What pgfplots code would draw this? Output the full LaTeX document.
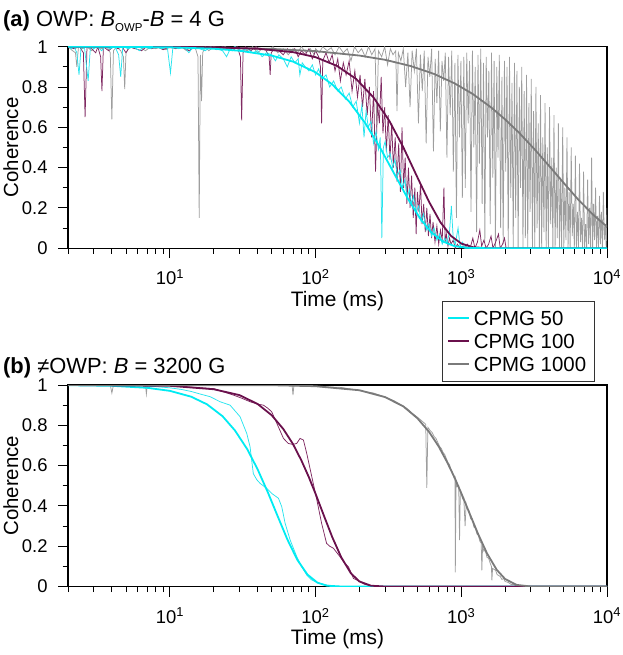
\documentclass[border=0pt]{standalone}
\usepackage{fontspec}
\setmainfont{Liberation Sans}
\usepackage{pgfplots}
\pgfplotsset{compat=1.18}

\definecolor{cy}{RGB}{0,235,242}
\definecolor{cyd}{RGB}{40,228,238}
\definecolor{mr}{RGB}{106,16,76}
\definecolor{mrd}{RGB}{128,42,98}
\definecolor{gy}{RGB}{122,122,122}
\definecolor{gyd}{RGB}{158,158,158}

\pgfplotsset{
  owppanel/.style={
    scale only axis, width=539bp, height=201.5bp,
    xmin=2, xmax=10000, ymin=0, ymax=1,
    xtick={10,100,1000,10000},
    xticklabels={10\textsuperscript{1},10\textsuperscript{2},10\textsuperscript{3},10\textsuperscript{4}},
    minor xtick={2,3,4,5,6,7,8,9,20,30,40,50,60,70,80,90,200,300,400,500,600,700,800,900,2000,3000,4000,5000,6000,7000,8000,9000},
    ytick={0,0.2,0.4,0.6,0.8,1},
    yticklabels={0,0.2,0.4,0.6,0.8,1},
    minor ytick={0.1,0.3,0.5,0.7,0.9},
    tick align=outside, xtick pos=left, ytick pos=left,
    major tick length=10bp, minor tick length=5.5bp,
    every tick/.style={black, line width=0.9bp},
    axis line style={line width=1.1bp},
    tick label style={font=\fontsize{18.5}{18.5}\selectfont},
    xticklabel style={yshift=-8bp},
    yticklabel style={xshift=-7bp},
    xlabel={Time (ms)}, ylabel={Coherence},
    every axis x label/.style={at={(axis description cs:0.5,-0.262)}, anchor=center, inner sep=0bp, font=\fontsize{21}{21}\selectfont},
    every axis y label/.style={at={(axis description cs:-0.106,0.5)}, rotate=90, anchor=center, inner sep=0bp, font=\fontsize{20.5}{20.5}\selectfont},
  },
  datline/.style={line width=0.75bp},
  fitline/.style={line width=1.8bp},
}

\begin{document}
\begin{tikzpicture}

% (a) OWP
\begin{semilogxaxis}[owppanel, at={(68bp,-46.7bp)}, anchor=north west]
\addplot[datline, gyd, forget plot] coordinates {(2,1)(2.15,0.98)(2.25,0.97)(2.3,0.90)(2.36,1)(2.5,0.99)(2.7,1)(2.9,0.98)(3.1,1)(3.4,0.99)(3.7,1)(3.9,0.97)(4.0,0.64)(4.1,0.98)(4.3,1)(4.6,0.98)(4.8,0.95)(4.9,0.79)(5.0,0.97)(5.3,1)(5.7,0.99)(6.2,1)(6.8,0.98)(7.4,1)(8,0.99)(8.7,1)(9.4,0.985)(10,1)(11,0.99)(12,1)(13,0.98)(14,1)(15,0.99)(15.6,0.95)(15.9,0.15)(16.2,0.96)(16.5,0.73)(16.8,0.97)(17.5,1)(18.5,0.98)(20,1)(22,0.99)(24,1)(26,0.985)(28,1)(31,0.99)(34,0.98)(37,1)(40,0.97)(43,0.99)(47,0.98)(51,1)(55,0.97)(60,0.99)(65,0.96)(70,0.99)(75,0.97)(80,1)(86,0.97)(92,0.99)(98,0.96)(100,0.99)(106,0.97)(112,1)(120,0.98)(128,0.995)(136,0.96)(145,1)(155,0.97)(165,0.99)(175,0.93)(185,1)(196,0.97)(207,0.99)(219,0.95)(231,1)(243,0.96)(256,0.99)(263,0.60)(270,0.98)(284,0.95)(298,1)(312,0.91)(326,0.99)(340,0.96)(355,0.98)(362,0.68)(370,0.97)(385,0.93)(400,0.99)(415,0.80)(430,0.97)(445,0.70)(460,0.98)(476,0.88)(492,0.99)(508,0.62)(524,0.96)(540,0.78)(557,0.98)(574,0.52)(591,0.95)(608,0.85)(626,0.99)(644,0.48)(662,0.94)(680,0.72)(699,0.98)(718,0.58)(737,0.93)(757,0.83)(777,0.97)(797,0.45)(818,0.95)(839,0.66)(860,0.98)(882,0.38)(904,0.92)(926,0.15)(948,0.96)(971,0.55)(994,0.93)(1017,0.25)(1041,0.95)(1065,0.30)(1090,0.97)(1115,0.62)(1140,0.93)(1166,0.18)(1192,0.98)(1219,0.50)(1246,0.90)(1274,0.08)(1302,0.96)(1331,0.42)(1360,0.99)(1390,0.22)(1420,0.92)(1451,0.03)(1482,0.95)(1514,0.55)(1546,0.88)(1579,0.12)(1612,0.97)(1646,0.35)(1680,0.93)(1715,0.0)(1751,0.90)(1787,0.45)(1824,0.96)(1862,0.10)(1900,0.85)(1939,0.02)(1978,0.93)(2018,0.38)(2059,0.90)(2100,0.0)(2142,0.95)(2185,0.25)(2228,0.82)(2272,0.0)(2317,0.92)(2362,0.15)(2408,0.88)(2455,0.0)(2503,0.80)(2551,0.30)(2600,0.90)(2650,0.0)(2700,0.78)(2752,0.05)(2804,0.86)(2857,0.0)(2911,0.72)(2966,0.18)(3021,0.84)(3078,0.0)(3135,0.68)(3193,0.0)(3252,0.80)(3312,0.10)(3373,0.62)(3435,0.0)(3497,0.76)(3561,0.0)(3625,0.55)(3691,0.08)(3757,0.72)(3825,0.0)(3893,0.50)(3963,0.0)(4033,0.70)(4105,0.12)(4178,0.45)(4251,0.0)(4326,0.66)(4402,0.0)(4479,0.40)(4557,0.05)(4637,0.62)(4717,0.0)(4799,0.35)(4882,0.0)(4966,0.60)(5051,0.0)(5137,0.30)(5225,0.04)(5313,0.55)(5403,0.0)(5494,0.28)(5586,0.0)(5680,0.50)(5775,0.06)(5871,0.22)(5968,0.0)(6067,0.46)(6167,0.0)(6268,0.18)(6371,0.0)(6475,0.42)(6581,0.03)(6688,0.15)(6797,0.0)(6907,0.38)(7018,0.0)(7131,0.12)(7246,0.0)(7362,0.34)(7480,0.02)(7599,0.20)(7720,0.0)(7842,0.45)(7966,0.0)(8092,0.22)(8219,0.04)(8348,0.30)(8478,0.0)(8610,0.16)(8744,0.0)(8880,0.26)(9017,0.02)(9156,0.18)(9297,0.0)(9439,0.28)(9584,0.04)(9730,0.12)(9878,0.0)(10000,0.20)};
\addplot[datline, mrd, forget plot] coordinates {(2,1)(2.2,0.99)(2.4,1)(2.55,0.97)(2.62,0.65)(2.7,1)(2.9,0.99)(3.1,0.97)(3.2,1)(3.35,0.95)(3.42,0.78)(3.5,1)(3.8,0.98)(4.1,1)(4.4,0.99)(4.7,1)(5.0,0.97)(5.3,1)(5.8,0.99)(6.4,0.98)(6.9,1)(7.5,0.99)(8.2,1)(9,0.985)(10,1)(11,0.99)(12,1)(13.5,0.98)(15,1)(17,0.99)(19,1)(21,0.985)(23,1)(25,0.99)(27,0.98)(29,1)(30.5,0.95)(31.1,0.635)(31.8,0.97)(33,1)(36,0.98)(39,1)(42,0.985)(45,0.99)(48,0.95)(48.8,0.86)(49.6,0.97)(52,0.99)(56,0.98)(60,0.96)(64,0.99)(68,0.97)(72,0.99)(76,0.95)(80,0.98)(85,0.96)(90,0.99)(95,0.94)(100,0.98)(105,0.95)(108,0.9)(110,0.62)(112,0.93)(118,0.97)(124,0.92)(130,0.96)(136,0.88)(142,0.94)(148,0.83)(155,0.92)(162,0.86)(170,0.93)(178,0.78)(186,0.88)(194,0.75)(202,0.86)(210,0.70)(218,0.84)(226,0.66)(234,0.80)(242,0.55)(250,0.78)(258,0.38)(266,0.72)(274,0.62)(282,0.85)(290,0.57)(298,0.70)(306,0.48)(315,0.66)(324,0.44)(333,0.62)(342,0.40)(352,0.55)(362,0.33)(372,0.52)(382,0.28)(392,0.60)(402,0.30)(412,0.45)(423,0.22)(434,0.40)(445,0.20)(456,0.36)(468,0.15)(480,0.30)(490,0.07)(500,0.28)(512,0.18)(525,0.32)(538,0.12)(552,0.22)(566,0.08)(580,0.20)(595,0.06)(610,0.17)(625,0.05)(640,0.13)(660,0.03)(680,0.11)(700,0.02)(720,0.09)(740,0.04)(760,0.30)(775,0.03)(790,0.07)(810,0.01)(830,0.05)(850,0.02)(880,0.04)(910,0.0)(940,0.02)(980,0.0)(1020,0.01)(1060,0.0)(1100,0.02)(1150,0.0)(1200,0.05)(1240,0.0)(1290,0.03)(1340,0.09)(1380,0.01)(1430,0.04)(1480,0.0)(1540,0.02)(1600,0.06)(1650,0.0)(1720,0.03)(1800,0.07)(1850,0.0)(1920,0.02)(1980,0.05)(2030,0.0)(10000,0)};
\addplot[datline, cyd, forget plot] coordinates {(2,1)(2.1,0.99)(2.2,1)(2.3,0.97)(2.38,0.86)(2.46,1)(2.6,0.99)(2.75,0.83)(2.85,1)(3.0,0.99)(3.2,1)(3.4,0.98)(3.6,1)(3.9,0.99)(4.2,1)(4.45,0.96)(4.6,0.85)(4.75,1)(5.2,0.99)(5.6,1)(6.2,0.98)(6.6,1)(7.3,0.99)(8,1)(8.8,0.99)(9.6,1)(10.1,0.87)(10.5,1)(11.5,0.99)(12.5,1)(13.5,0.97)(14.5,1)(16,0.99)(17.5,0.98)(19,1)(21,0.99)(23,0.98)(24.5,0.95)(26,0.99)(28,1)(31,0.98)(34,0.99)(37,0.97)(40,0.98)(43,0.95)(46,0.97)(50,0.96)(53,0.93)(56,0.96)(60,0.94)(64,0.9)(68,0.95)(72,0.92)(76,0.94)(78,0.86)(81,0.92)(85,0.9)(90,0.88)(95,0.91)(100,0.86)(105,0.89)(110,0.84)(118,0.86)(125,0.80)(133,0.83)(142,0.78)(150,0.80)(160,0.74)(170,0.77)(180,0.70)(190,0.73)(200,0.62)(208,0.71)(215,0.55)(222,0.68)(230,0.60)(240,0.63)(250,0.52)(260,0.58)(270,0.49)(278,0.55)(285,0.05)(292,0.50)(300,0.53)(312,0.45)(325,0.47)(338,0.40)(350,0.44)(365,0.36)(380,0.39)(395,0.30)(410,0.34)(425,0.25)(440,0.29)(455,0.22)(470,0.26)(490,0.18)(510,0.21)(530,0.13)(550,0.17)(575,0.09)(600,0.12)(625,0.06)(650,0.10)(680,0.04)(710,0.07)(740,0.02)(770,0.05)(800,0.03)(830,0.08)(855,0.21)(880,0.05)(910,0.02)(950,0.10)(980,0.01)(1020,0.03)(1060,0)(10000,0)};
\addplot[fitline, gy] coordinates {(2,1)(20,0.996)(50,0.989)(100,0.978)(200,0.956)(300,0.935)(450,0.904)(650,0.865)(900,0.818)(1200,0.765)(1600,0.699)(2000,0.639)(2500,0.572)(3200,0.489)(4000,0.409)(5000,0.327)(6300,0.244)(8000,0.167)(10000,0.107)};
\addplot[fitline, mr] coordinates {(2,1)(10,0.999)(20,0.997)(40,0.990)(70,0.973)(100,0.948)(140,0.905)(190,0.840)(250,0.748)(320,0.633)(400,0.501)(490,0.365)(600,0.231)(720,0.128)(850,0.061)(1000,0.023)(1200,0.005)(1500,0)(10000,0)};
\addplot[fitline, cy] coordinates {(2,1)(5,0.999)(10,0.997)(20,0.990)(30,0.980)(50,0.956)(70,0.926)(100,0.873)(130,0.813)(170,0.728)(220,0.619)(280,0.493)(350,0.364)(430,0.246)(520,0.149)(620,0.080)(750,0.033)(900,0.010)(1100,0.002)(1500,0)(10000,0)};
\end{semilogxaxis}

% (b) not OWP
\begin{semilogxaxis}[owppanel, at={(68bp,-385bp)}, anchor=north west,
  legend style={at={(axis description cs:0.694,1.417)}, anchor=north west,
    draw=black!80, line width=0.8bp, font=\fontsize{20.5}{20.5}\selectfont,
    inner xsep=5bp, inner ysep=9.75bp, row sep=8.5bp,
    nodes={inner sep=3.5bp, inner ysep=0bp, text height=14.5bp, text depth=0bp},
    cells={anchor=west}},
  legend image code/.code={\draw[#1, line width=1.8bp] (0bp,0bp) -- (21bp,0bp);},
]
\addplot[datline, gyd, forget plot] coordinates {(2,1)(3.9,1)(4.0,0.96)(4.1,1)(6.8,1)(6.9,0.955)(7.0,1)(69,0.998)(70,0.95)(71,0.997)(150,0.988)(250,0.96)(300,0.94)(350,0.92)(400,0.895)(430,0.88)(460,0.86)(490,0.845)(520,0.83)(550,0.815)(570,0.805)(580,0.49)(590,0.79)(610,0.775)(630,0.765)(650,0.745)(670,0.735)(690,0.715)(710,0.695)(730,0.685)(750,0.665)(770,0.655)(790,0.635)(810,0.615)(830,0.605)(850,0.58)(870,0.565)(890,0.54)(905,0.545)(910,0.07)(920,0.52)(935,0.495)(960,0.50)(973,0.23)(985,0.47)(1000,0.465)(1020,0.435)(1040,0.44)(1062,0.30)(1080,0.41)(1100,0.385)(1130,0.375)(1160,0.335)(1190,0.335)(1220,0.295)(1250,0.29)(1280,0.26)(1310,0.255)(1340,0.225)(1370,0.215)(1384,0.08)(1400,0.20)(1430,0.175)(1460,0.18)(1500,0.145)(1540,0.14)(1580,0.115)(1610,0.10)(1622,0.03)(1640,0.09)(1680,0.085)(1720,0.08)(1760,0.06)(1800,0.055)(1850,0.05)(1900,0.035)(1950,0.04)(2000,0.025)(2100,0.02)(2200,0.01)(2300,0.01)(2400,0)(10000,0)};
\addplot[datline, mrd, forget plot] coordinates {(2,1)(10,0.997)(20,0.982)(27.3,0.95)(31,0.935)(35.5,0.917)(40,0.905)(43.8,0.90)(47,0.885)(50,0.867)(54.2,0.81)(60.2,0.735)(65,0.71)(70,0.705)(74.2,0.71)(78.3,0.735)(82.5,0.727)(87,0.66)(94.2,0.545)(102,0.43)(110,0.314)(119,0.214)(125,0.20)(132.5,0.19)(147,0.148)(155,0.125)(159,0.115)(168,0.098)(175,0.07)(182,0.04)(192,0.032)(202,0.024)(215,0.012)(235,0.004)(260,0)(10000,0)};
\addplot[datline, cyd, forget plot] coordinates {(2,1)(5,0.998)(8,0.992)(10,0.986)(12,0.978)(14,0.968)(16,0.956)(18.9,0.942)(22.1,0.917)(25.9,0.90)(30.3,0.843)(33.7,0.76)(35.5,0.694)(37.4,0.56)(39.5,0.53)(41.6,0.512)(46.2,0.487)(50,0.462)(55.6,0.438)(58.6,0.396)(61.8,0.314)(66.9,0.231)(74.3,0.148)(80,0.10)(87,0.057)(93,0.035)(99.4,0.024)(108,0.014)(119,0.007)(135,0.002)(150,0)(10000,0)};
\addplot[fitline, cy] coordinates {(2,0.999)(4,0.996)(7,0.986)(10,0.971)(14,0.942)(18,0.904)(23,0.845)(28,0.774)(34,0.681)(40,0.582)(47,0.468)(55,0.348)(64,0.234)(75,0.132)(88,0.059)(103,0.019)(120,0.004)(150,0)(10000,0)};
\addlegendentry{CPMG 50}
\addplot[fitline, mr] coordinates {(2,1)(10,0.996)(20,0.979)(30,0.950)(40,0.906)(50,0.850)(60,0.782)(70,0.707)(80,0.625)(90,0.542)(100,0.460)(115,0.345)(130,0.246)(150,0.145)(175,0.065)(200,0.025)(240,0.004)(300,0)(10000,0)};
\addlegendentry{CPMG 100}
\addplot[fitline, gy] coordinates {(2,1)(50,0.999)(100,0.994)(200,0.974)(300,0.940)(400,0.894)(500,0.835)(600,0.768)(700,0.695)(800,0.617)(900,0.540)(1000,0.463)(1150,0.356)(1300,0.263)(1500,0.165)(1750,0.083)(2000,0.037)(2400,0.008)(3000,0)(10000,0)};
\addlegendentry{CPMG 1000}
\end{semilogxaxis}

\node[anchor=base west, font=\fontsize{22}{22}\selectfont, inner sep=0pt] at (3bp,-26bp)
  {\textbf{(a)} OWP: \textit{B}\raisebox{-5.5bp}{\fontsize{11.5}{11.5}\selectfont OWP}-\textit{B} = 4 G};
\node[anchor=base west, font=\fontsize{22}{22}\selectfont, inner sep=0pt] at (3bp,-373bp)
  {\textbf{(b)} ≠OWP: \textit{B} = 3200 G};

\pgfresetboundingbox
\useasboundingbox (0bp,0bp) rectangle (623bp,-655bp);
\end{tikzpicture}
\end{document}
